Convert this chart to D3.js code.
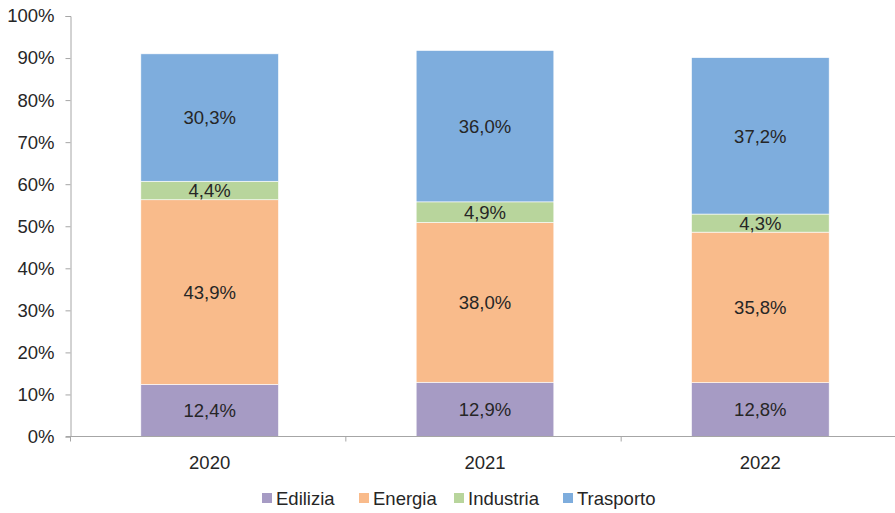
<!DOCTYPE html>
<html>
<head>
<meta charset="utf-8">
<script src="https://cdn.jsdelivr.net/npm/d3@7"></script>
<style>
  body { margin: 0; background: #fff; }
  text { font-family: "Liberation Sans", Arial, sans-serif; fill: #262626; }
</style>
</head>
<body>
<div id="chart"></div>
<script>
// data
var years = ["2020", "2021", "2022"];
var sectors = ["Edilizia", "Energia", "Industria", "Trasporto"];
var edilizia = [12.4, 12.9, 12.8];
var energia = [43.9, 38.0, 35.8];
var industria = [4.4, 4.9, 4.3];
var trasporto = [30.3, 36.0, 37.2];
var yTicks = [0, 10, 20, 30, 40, 50, 60, 70, 80, 90, 100];

var colors = ["#a69bc4", "#f9bb8b", "#b8d59c", "#7eaddd"];

var width = 895, height = 513;
var margin = { left: 71, right: -3, top: 16, bottom: 76 };
var fs = 18.5;

var rows = years.map(function (y, i) {
    return { year: y, Edilizia: edilizia[i], Energia: energia[i], Industria: industria[i], Trasporto: trasporto[i] };
});

var svg = d3.select("#chart").append("svg")
    .attr("width", width)
    .attr("height", height);

var x = d3.scaleBand()
    .domain(years)
    .range([margin.left + 1, width - margin.right])
    .paddingInner(0.5)
    .paddingOuter(0.25);

var y = d3.scaleLinear()
    .domain([0, 100])
    .range([height - margin.bottom - 0.5, margin.top]);

var stack = d3.stack().keys(sectors)(rows);

// bars
var layer = svg.selectAll(".layer")
    .data(stack)
    .enter()
    .append("g")
    .attr("class", "layer")
    .attr("fill", function (d, i) { return colors[i]; });

layer.selectAll("rect")
    .data(function (d) { return d; })
    .enter()
    .append("rect")
    .attr("x", function (d) { return x(d.data.year); })
    .attr("width", x.bandwidth())
    .attr("y", function (d) { return y(d[1]); })
    .attr("height", function (d) { return y(d[0]) - y(d[1]); })
    .attr("stroke", "#fff")
    .attr("stroke-width", 0.6);

layer.selectAll("text")
    .data(function (d) { return d; })
    .enter()
    .append("text")
    .attr("x", function (d) { return x(d.data.year) + x.bandwidth() / 2; })
    .attr("y", function (d) { return (y(d[0]) + y(d[1])) / 2; })
    .attr("dy", "0.36em")
    .attr("text-anchor", "middle")
    .attr("font-size", fs)
    .text(function (d) { return (d[1] - d[0]).toFixed(1).replace(".", ",") + "%"; });

// y axis
var yAxis = svg.append("g")
    .attr("transform", "translate(" + (margin.left - 0.5) + ",0)")
    .call(d3.axisLeft(y).tickValues(yTicks).tickSize(5).tickPadding(11)
        .tickFormat(function (d) { return d + "%"; }));
yAxis.selectAll("path, line").attr("stroke", "#a6a6a6");
yAxis.selectAll("text").attr("font-size", fs).style("fill", "#262626")
    .attr("font-family", "Liberation Sans, Arial, sans-serif");

// x axis
var step = x.step();
var xAxis = svg.append("g")
    .attr("transform", "translate(0," + (y(0)) + ")");
xAxis.append("line")
    .attr("x1", margin.left - 5).attr("x2", width)
    .attr("stroke", "#a6a6a6");
var bounds = [0, 1, 2, 3].map(function (i) { return margin.left - 0.5 + i * step; });
xAxis.selectAll(".tk")
    .data(bounds)
    .enter()
    .append("line")
    .attr("x1", function (d) { return d; })
    .attr("x2", function (d) { return d; })
    .attr("y1", 0).attr("y2", 5)
    .attr("stroke", "#a6a6a6");
xAxis.selectAll(".lbl")
    .data(years)
    .enter()
    .append("text")
    .attr("x", function (d) { return x(d) + x.bandwidth() / 2; })
    .attr("y", 32)
    .attr("text-anchor", "middle")
    .attr("font-size", fs)
    .text(function (d) { return d; });

// legend
var legendX = [262, 359, 454, 563];
var legend = svg.append("g").selectAll("g")
    .data(sectors)
    .enter()
    .append("g")
    .attr("transform", function (d, i) { return "translate(" + legendX[i] + ",493)"; });
legend.append("rect")
    .attr("width", 10).attr("height", 10)
    .attr("fill", function (d, i) { return colors[i]; });
legend.append("text")
    .attr("x", 14)
    .attr("y", 5)
    .attr("dy", "0.36em")
    .attr("font-size", fs)
    .text(function (d) { return d; });
</script>
</body>
</html>
